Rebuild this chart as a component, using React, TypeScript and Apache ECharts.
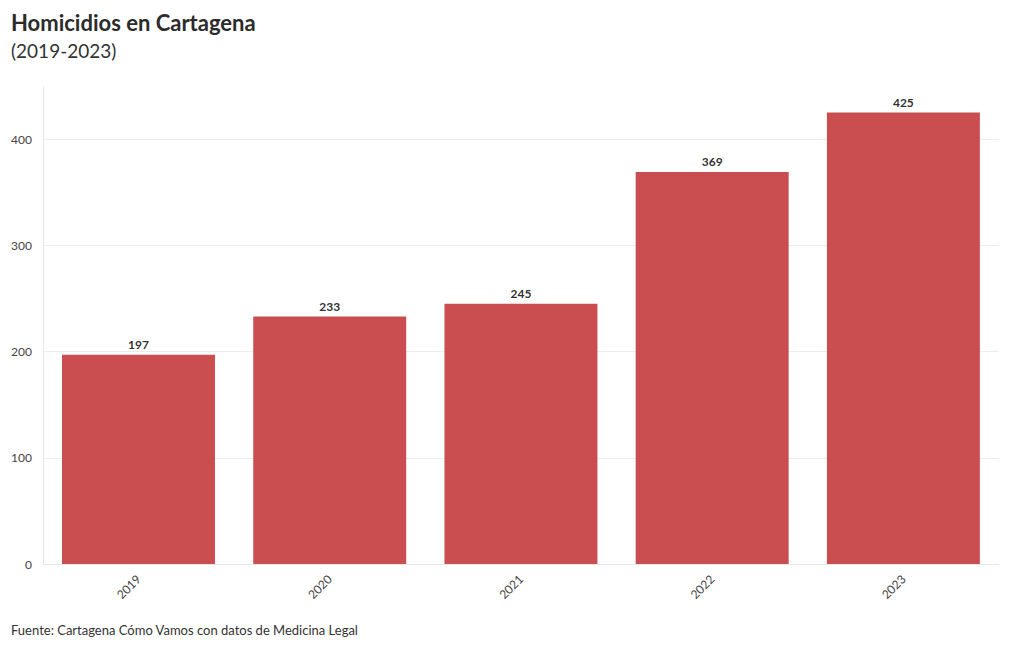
import React, { useEffect, useRef } from "react";
import * as echarts from "echarts";

const categories = ["2019", "2020", "2021", "2022", "2023"];
const homicidios = [197, 233, 245, 369, 425];
const titleText = "Homicidios en Cartagena";
const subtitleText = "(2019-2023)";
const sourceText = "Fuente: Cartagena Cómo Vamos con datos de Medicina Legal";

const FONT = "Lato, 'Noto Sans', sans-serif";
const GRID = "#ececec";

export default function App() {
  const ref = useRef<HTMLDivElement>(null);
  useEffect(() => {
    if (!ref.current) return;
    const chart = echarts.init(ref.current, undefined, { renderer: "svg" });
    chart.setOption({
      animation: false,
      textStyle: { fontFamily: FONT },
      title: [
        {
          text: titleText,
          left: 3,
          top: 3,
          padding: 0,
          textStyle: { fontFamily: FONT, fontSize: 22, fontWeight: "bold", color: "#2b2b2b" },
        },
        {
          text: subtitleText,
          left: 3,
          top: 33,
          padding: 0,
          textStyle: { fontFamily: FONT, fontSize: 19, fontWeight: "normal", color: "#333" },
        },
        {
          text: sourceText,
          left: 3,
          top: 615,
          padding: 0,
          textStyle: { fontFamily: FONT, fontSize: 13, fontWeight: "normal", color: "#333" },
        },
      ],
      grid: { left: 34, right: 13, top: 79, bottom: 78, containLabel: false },
      xAxis: {
        type: "category",
        data: categories,
        axisLine: { show: true, lineStyle: { color: "#e6e6e6" } },
        axisTick: { show: false },
        axisLabel: { rotate: 45, fontSize: 12, color: "#444", fontFamily: FONT, margin: 13 },
      },
      yAxis: {
        type: "value",
        min: 0,
        max: 449,
        interval: 100,
        axisLine: { show: true, lineStyle: { color: "#e6e6e6" } },
        axisTick: { show: false },
        axisLabel: {
          fontSize: 12,
          color: "#444",
          fontFamily: FONT,
          margin: 11,
          formatter: (v: number) => (v % 100 === 0 ? String(v) : ""),
        },
        splitLine: {
          show: true,
          lineStyle: { color: [GRID, GRID, GRID, GRID, GRID, "rgba(0,0,0,0)"] },
        },
      },
      series: [
        {
          type: "bar",
          data: homicidios,
          barCategoryGap: "20%",
          itemStyle: { color: "#c94a4b", opacity: 0.98 },
          label: {
            show: true,
            position: "top",
            distance: 4,
            fontSize: 12,
            fontWeight: "bold",
            color: "#2b2b2b",
            fontFamily: FONT,
          },
        },
      ],
    });
    return () => chart.dispose();
  }, []);
  return <div ref={ref} style={{ width: 1004, height: 634 }} />;
}
